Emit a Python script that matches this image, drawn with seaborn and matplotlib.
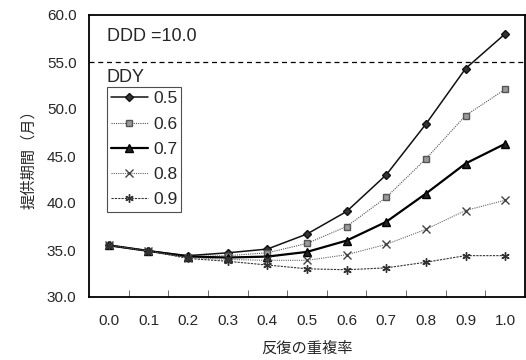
import matplotlib
matplotlib.use("Agg")
import matplotlib.pyplot as plt
import pandas as pd
import seaborn as sns

# 反復の重複率 (x categories)
rates = ["0.0", "0.1", "0.2", "0.3", "0.4", "0.5", "0.6", "0.7", "0.8", "0.9", "1.0"]

# 提供期間（月） for each DDY
ddy_05 = [35.5, 34.9, 34.4, 34.7, 35.1, 36.7, 39.1, 43.0, 48.4, 54.3, 58.0]
ddy_06 = [35.5, 34.9, 34.3, 34.4, 34.7, 35.7, 37.5, 40.6, 44.7, 49.3, 52.1]
ddy_07 = [35.5, 34.9, 34.3, 34.2, 34.3, 34.8, 36.0, 38.0, 41.0, 44.2, 46.3]
ddy_08 = [35.5, 34.9, 34.2, 34.0, 33.9, 33.9, 34.5, 35.6, 37.2, 39.2, 40.3]
ddy_09 = [35.5, 34.9, 34.1, 33.8, 33.4, 33.0, 32.9, 33.1, 33.7, 34.4, 34.4]

ddy_labels = ["0.5", "0.6", "0.7", "0.8", "0.9"]
series = [ddy_05, ddy_06, ddy_07, ddy_08, ddy_09]

ddd_value = 10.0
threshold = 55.0

rows = []
for lab, vals in zip(ddy_labels, series):
    for i, v in enumerate(vals):
        rows.append({"pos": i, "DDY": lab, "months": v})
df = pd.DataFrame(rows)

styles = {
    "0.5": dict(color="#111111", lw=1.1, ls="-", marker="D", ms=4.5, mfc="#333333", mec="#111111"),
    "0.6": dict(color="#555555", lw=0.8, ls=(0, (1, 1)), marker="s", ms=5, mfc="#9a9a9a", mec="#555555"),
    "0.7": dict(color="#000000", lw=1.6, ls="-", marker="^", ms=5.5, mfc="#222222", mec="#000000"),
    "0.8": dict(color="#666666", lw=0.8, ls=(0, (1, 1)), marker="x", ms=6, mfc="none", mec="#444444"),
    "0.9": dict(color="#333333", lw=0.8, ls=(0, (2, 1)), marker=(6, 2, 0), ms=6, mfc="none", mec="#333333"),
}

sns.set_theme(style="white")
plt.rcParams["font.family"] = ["Liberation Sans", "Noto Sans CJK JP", "DejaVu Sans"]

fig = plt.figure(figsize=(5.26, 3.6), dpi=100)
ax = fig.add_axes([89 / 526, 63 / 360, 436 / 526, 282 / 360])

for lab in ddy_labels:
    st = styles[lab]
    sub = df[df["DDY"] == lab]
    sns.lineplot(data=sub, x="pos", y="months", ax=ax, label=lab,
                 color=st["color"], linewidth=st["lw"], linestyle=st["ls"],
                 marker=st["marker"], markersize=st["ms"],
                 markerfacecolor=st["mfc"], markeredgecolor=st["mec"],
                 markeredgewidth=1.0)

ax.axhline(threshold, color="black", lw=0.9, ls=(0, (4, 3)))

yticks = [30, 35, 40, 45, 50, 55, 60]
ax.set_xlim(-0.5, len(rates) - 0.5)
ax.set_ylim(30, 60)
ax.set_yticks(yticks)
ax.set_yticklabels([f"{v:.1f}" for v in yticks], fontsize=11)
ax.set_xticks(range(len(rates)))
ax.set_xticklabels(rates, fontsize=11)
ax.set_xticks([i + 0.5 for i in range(len(rates) - 1)], minor=True)
ax.tick_params(axis="x", which="major", length=0, pad=12)
ax.tick_params(axis="x", which="minor", direction="in", length=5, width=0.6, color="#555555", bottom=True)
ax.tick_params(axis="y", length=0, pad=9)

for sp in ax.spines.values():
    sp.set_color("black")
    sp.set_linewidth(1.3)

ax.set_xlabel("反復の重複率", fontsize=11, labelpad=10)
ax.set_ylabel("提供期間（月）", fontsize=11, labelpad=8)

ax.text(0.041, 0.925, f"DDD ={ddd_value:.1f}", transform=ax.transAxes, fontsize=13, va="center")
ax.text(0.041, 0.78, "DDY", transform=ax.transAxes, fontsize=13, va="center")

leg = ax.legend(loc="upper left", bbox_to_anchor=(0.041, 0.745), fontsize=12.5,
                frameon=True, fancybox=False, borderpad=0.25, labelspacing=0.58,
                handlelength=2.1, handletextpad=0.3, borderaxespad=0)
leg.get_frame().set_edgecolor("#222222")
leg.get_frame().set_linewidth(0.8)

fig.savefig("out.png", dpi=100)
